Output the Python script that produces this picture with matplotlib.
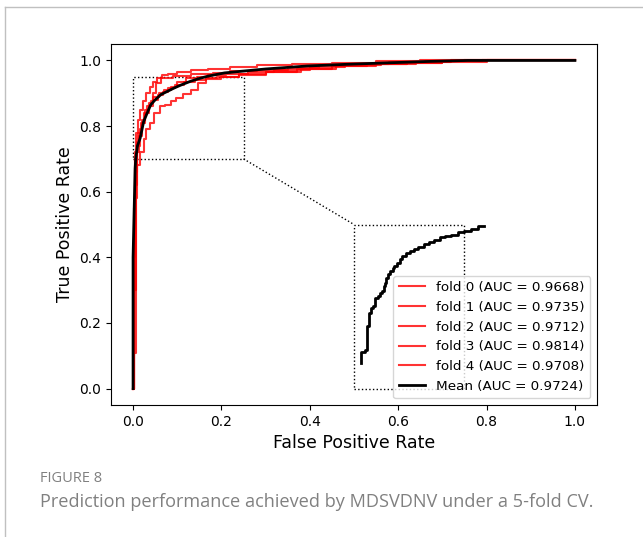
import numpy as np
import matplotlib
matplotlib.use("Agg")
from matplotlib import pyplot as plt
from matplotlib.lines import Line2D
from matplotlib.patches import Rectangle

# fold ROC curves
fold_fpr = [
    [0, 0.003, 0.006, 0.010, 0.016, 0.024, 0.030, 0.038, 0.048, 0.060, 0.072, 0.085, 0.097, 0.112, 0.130, 0.148, 0.165, 0.20, 0.24, 0.30, 0.38, 0.46, 0.55, 0.62, 0.70, 0.80, 1.0],
    [0, 0.002, 0.004, 0.008, 0.012, 0.018, 0.025, 0.032, 0.040, 0.046, 0.052, 0.063, 0.09, 0.13, 0.18, 0.22, 0.28, 0.35, 0.42, 0.50, 0.58, 0.66, 0.75, 1.0],
    [0, 0.002, 0.005, 0.010, 0.015, 0.020, 0.028, 0.036, 0.046, 0.058, 0.070, 0.085, 0.100, 0.120, 0.145, 0.170, 0.21, 0.26, 0.32, 0.40, 0.48, 0.56, 0.64, 0.72, 1.0],
    [0, 0.002, 0.004, 0.007, 0.011, 0.016, 0.022, 0.030, 0.038, 0.045, 0.055, 0.065, 0.08, 0.10, 0.13, 0.17, 0.22, 0.28, 0.36, 0.45, 0.55, 0.65, 1.0],
    [0, 0.003, 0.006, 0.009, 0.014, 0.020, 0.027, 0.035, 0.045, 0.056, 0.068, 0.080, 0.095, 0.115, 0.14, 0.165, 0.19, 0.24, 0.30, 0.37, 0.45, 0.53, 0.62, 0.70, 0.79, 1.0],
]
fold_tpr = [
    [0, 0.11, 0.58, 0.68, 0.72, 0.76, 0.79, 0.81, 0.84, 0.86, 0.865, 0.875, 0.885, 0.897, 0.91, 0.93, 0.942, 0.95, 0.955, 0.965, 0.975, 0.982, 0.99, 0.993, 0.996, 1.0, 1.0],
    [0, 0.40, 0.70, 0.75, 0.78, 0.81, 0.84, 0.86, 0.875, 0.90, 0.93, 0.945, 0.952, 0.958, 0.962, 0.968, 0.972, 0.978, 0.985, 0.99, 0.995, 0.998, 1.0, 1.0],
    [0, 0.45, 0.62, 0.74, 0.79, 0.82, 0.85, 0.87, 0.89, 0.90, 0.91, 0.92, 0.935, 0.945, 0.95, 0.955, 0.96, 0.965, 0.972, 0.98, 0.985, 0.99, 0.995, 1.0, 1.0],
    [0, 0.55, 0.72, 0.78, 0.82, 0.85, 0.875, 0.90, 0.92, 0.935, 0.945, 0.955, 0.96, 0.965, 0.97, 0.975, 0.98, 0.985, 0.99, 0.993, 0.997, 1.0, 1.0],
    [0, 0.30, 0.66, 0.72, 0.77, 0.81, 0.84, 0.86, 0.88, 0.895, 0.905, 0.915, 0.925, 0.935, 0.94, 0.945, 0.95, 0.958, 0.965, 0.975, 0.982, 0.988, 0.993, 0.997, 1.0, 1.0],
]
fold_auc = [0.9668, 0.9735, 0.9712, 0.9814, 0.9708]

mean_fpr = [0, 0, 0.0046, 0.006, 0.010, 0.016, 0.024, 0.032, 0.040, 0.050, 0.063, 0.078, 0.093, 0.11, 0.131, 0.15, 0.169, 0.207, 0.245, 0.30, 0.393, 0.48, 0.583, 0.67, 0.758, 1.0]
mean_tpr = [0, 0.40, 0.67, 0.70, 0.74, 0.763, 0.814, 0.84, 0.865, 0.88, 0.896, 0.906, 0.916, 0.926, 0.937, 0.945, 0.952, 0.962, 0.967, 0.974, 0.983, 0.988, 0.993, 0.997, 1.0, 1.0]
mean_auc = 0.9724

# zoomed copy of the mean curve (as drawn in the lower box)
zoom_x = [0.516, 0.524, 0.530, 0.535, 0.539, 0.544, 0.548, 0.554, 0.559, 0.563, 0.567, 0.571, 0.572, 0.577, 0.582, 0.588, 0.591, 0.597, 0.603, 0.609, 0.618, 0.627, 0.636, 0.645, 0.658, 0.670, 0.682, 0.694, 0.706, 0.720, 0.735, 0.750, 0.765, 0.781, 0.794]
zoom_y = [0.078, 0.113, 0.119, 0.190, 0.231, 0.246, 0.252, 0.277, 0.282, 0.292, 0.298, 0.313, 0.323, 0.338, 0.349, 0.359, 0.369, 0.374, 0.384, 0.394, 0.405, 0.413, 0.420, 0.425, 0.433, 0.440, 0.448, 0.454, 0.461, 0.466, 0.469, 0.476, 0.479, 0.485, 0.497]

fig = plt.figure(figsize=(6.43, 5.37), dpi=100)
ax = fig.add_axes([0.1726, 0.2458, 0.7559, 0.6722])

for i in range(len(fold_fpr)):
    ax.plot(fold_fpr[i], fold_tpr[i], drawstyle="steps-post", color="red", alpha=0.8, lw=1.5,
            label="fold {} (AUC = {:.4f})".format(i, fold_auc[i]))
ax.plot(mean_fpr, mean_tpr, color="black", lw=2, label="Mean (AUC = {:.4f})".format(mean_auc))

# zoom boxes
ax.add_patch(Rectangle((0, 0.7), 0.25, 0.25, fill=False, ls=":", lw=1, color="black"))
ax.add_patch(Rectangle((0.5, 0), 0.25, 0.5, fill=False, ls=":", lw=1, color="black"))
ax.plot([0.25, 0.5], [0.7, 0.5], ls=":", lw=1, color="black")
ax.plot(zoom_x, zoom_y, drawstyle="steps-pre", color="black", lw=2)

ax.set_xlim(-0.05, 1.05)
ax.set_ylim(-0.05, 1.05)
ax.set_xticks([0, 0.2, 0.4, 0.6, 0.8, 1.0])
ax.set_yticks([0, 0.2, 0.4, 0.6, 0.8, 1.0])
ax.tick_params(labelsize=10)
ax.set_xlabel("False Positive Rate", fontsize=12.5)
ax.set_ylabel("True Positive Rate", fontsize=12.5)
ax.legend(loc="lower right", fontsize=9.7)

# card frame and caption
fig.add_artist(Line2D([0.008, 1.0], [0.987, 0.987], color="#c0c0c0", lw=1, transform=fig.transFigure))
fig.add_artist(Line2D([0.008, 0.008], [0.0, 0.987], color="#c0c0c0", lw=1, transform=fig.transFigure))
fig.text(0.062, 0.102, "FIGURE 8", fontsize=10.5, color="#808080", family="Open Sans")
fig.text(0.062, 0.056, "Prediction performance achieved by MDSVDNV under a 5-fold CV.",
         fontsize=13.1, color="#808080", family="Open Sans")

fig.savefig("out.png", dpi=100)
